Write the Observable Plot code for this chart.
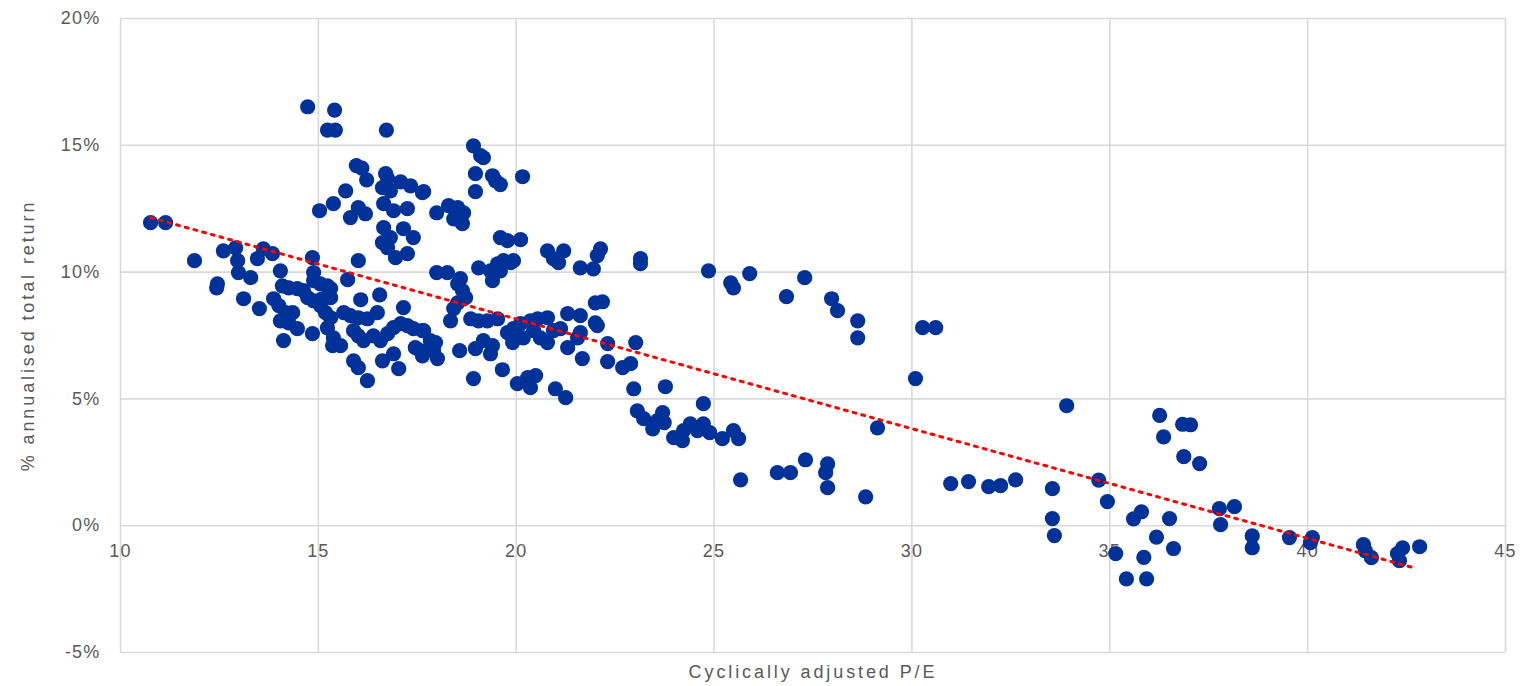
<!DOCTYPE html>
<html>
<head>
<meta charset="utf-8">
<script src="https://cdn.jsdelivr.net/npm/d3@7"></script>
<script src="https://cdn.jsdelivr.net/npm/@observablehq/plot@0.6"></script>
<style>
  html, body { margin: 0; padding: 0; background: #ffffff; }
  #chart { width: 1532px; height: 686px; }
</style>
</head>
<body>
<div id="chart"></div>
<script>
// Cyclically adjusted P/E (x) and % annualised total return (y)
const peX = [
  10.76, 11.14, 11.87, 12.45, 12.43, 12.60, 12.91, 12.96, 12.98, 13.29,
  13.11, 13.51, 13.61, 13.84, 13.46, 14.04, 13.87, 14.00, 14.09, 14.25,
  14.47, 14.62, 14.88, 15.05, 15.23, 15.31, 14.73, 14.88, 15.10, 15.31,
  14.17, 14.35, 14.04, 14.25, 14.12, 14.47, 14.85, 15.05, 15.18, 15.31,
  15.23, 15.38, 15.36, 15.56, 15.64, 15.81, 16.01, 16.24, 16.49, 16.07,
  16.55, 17.15, 15.89, 16.01, 16.14, 15.89, 16.01, 16.24, 16.39, 16.57,
  16.75, 16.90, 17.08, 17.25, 17.40, 17.63, 17.83, 17.91, 17.63, 17.45,
  16.62, 16.90, 17.03, 14.85, 14.88, 15.74, 16.01, 17.99, 18.26, 18.59,
  14.73, 15.41, 15.23, 15.43, 16.72, 15.96, 16.10, 16.22, 16.70, 16.75,
  16.62, 17.08, 17.33, 17.63, 16.82, 15.69, 15.38, 15.03, 15.81, 16.01,
  16.19, 16.65, 16.90, 17.25, 17.99, 16.65, 16.62, 16.82, 16.75, 16.95,
  17.15, 17.40, 17.25,
  18.92, 19.10, 19.17, 18.97, 18.97, 19.40, 19.48, 19.60, 20.16, 17.66,
  18.29, 18.52, 18.67, 18.42, 18.64, 19.60, 19.78, 20.11, 20.79, 20.94,
  21.20, 21.07, 21.62, 21.95, 22.13, 22.05, 19.05, 19.53, 19.68, 19.86,
  19.93, 19.35, 19.60, 19.40, 18.52, 18.64, 18.72, 18.52, 18.42, 18.34,
  18.85, 19.05, 19.27, 19.53, 17.66, 17.58, 17.96, 18.01, 18.57, 18.97,
  19.17, 19.35, 19.40, 19.65, 18.92,
  19.78, 19.93, 20.11, 20.18, 19.91, 20.36, 20.54, 20.79, 20.44, 20.61,
  20.79, 20.94, 21.12, 21.30, 21.62, 21.30, 21.55, 21.62,
  22.00, 22.18, 22.00, 22.05, 21.67, 22.31, 22.31, 22.69, 22.89, 23.02,
  22.97, 20.03, 20.29, 20.49, 20.36, 20.99, 21.25, 23.14, 23.14, 23.77,
  23.06, 23.22, 23.45, 23.70, 23.74, 23.57,
  23.98, 24.20, 24.23, 24.40, 24.58, 24.73, 24.89, 25.21, 25.49, 25.62,
  24.73, 24.86, 25.42, 25.49, 25.90, 26.83, 27.29, 27.97, 28.12, 28.63,
  28.63, 30.27, 30.60, 30.09, 29.13, 25.67, 26.60, 26.93, 27.31, 27.87,
  27.82, 27.87, 28.83, 30.98, 31.43, 31.94, 32.24, 32.62, 33.55, 33.55,
  33.60, 33.91, 34.72, 34.94, 35.15, 35.42, 35.60, 35.80, 35.86, 35.93,
  36.18, 36.26, 36.36, 36.51, 36.61, 36.84, 37.04, 36.87, 37.27, 37.77,
  38.15, 37.80, 38.60, 38.60, 39.54, 40.12, 40.07, 41.41, 41.46, 41.61,
  42.27, 42.32, 42.40, 42.83
];
const retY = [
  11.95, 11.95, 10.45, 9.54, 9.38, 10.84, 10.96, 10.45, 9.98, 9.78,
  8.95, 8.56, 10.92, 10.73, 10.53, 10.05, 8.95, 8.68, 9.46, 9.38,
  9.35, 9.27, 9.66, 9.54, 9.46, 9.35, 8.99, 8.87, 8.95, 8.99,
  8.40, 8.40, 8.08, 8.00, 7.30, 7.77, 7.57, 8.68, 8.40, 8.20,
  7.80, 7.41, 7.10, 7.10, 8.40, 8.28, 8.20, 8.16, 8.40, 8.91,
  9.10, 8.60, 7.69, 7.49, 7.30, 6.50, 6.23, 5.72, 7.49, 7.30,
  7.57, 7.81, 7.97, 7.89, 7.77, 7.69, 7.30, 6.90, 6.70, 7.02,
  6.50, 6.78, 6.19, 10.57, 9.98, 9.70, 10.45, 9.98, 9.98, 9.74,
  16.52, 16.39, 15.60, 15.60, 15.60, 14.20, 14.10, 13.64, 13.88, 13.70,
  13.33, 13.56, 13.40, 13.13, 13.20, 13.20, 12.70, 12.42, 12.15, 12.54,
  12.30, 12.70, 12.42, 12.50, 12.34, 11.75, 11.16, 11.36, 10.96, 10.57,
  11.71, 11.36, 10.73,
  14.98, 14.59, 14.51, 13.88, 13.17, 13.80, 13.60, 13.45, 13.76, 13.17,
  12.62, 12.54, 12.34, 12.10, 11.91, 11.36, 11.24, 11.28, 10.84, 10.53,
  10.84, 10.37, 10.17, 10.13, 10.92, 10.65, 10.17, 10.33, 10.45, 10.37,
  10.45, 10.05, 10.05, 9.66, 9.54, 9.27, 8.99, 8.79, 8.56, 8.08,
  8.16, 8.08, 8.08, 8.16, 7.69, 6.90, 7.22, 6.59, 6.90, 6.98,
  7.30, 6.78, 7.10, 6.15, 5.80,
  7.61, 7.77, 7.97, 7.41, 7.22, 8.08, 8.16, 8.20, 7.69, 7.41,
  7.22, 7.69, 7.77, 8.36, 8.28, 7.02, 7.41, 7.61,
  8.79, 8.83, 8.00, 7.89, 6.59, 7.18, 6.47, 6.23, 6.39, 7.22,
  5.40, 5.60, 5.84, 5.92, 5.44, 5.40, 5.05, 10.53, 10.33, 5.48,
  4.53, 4.22, 3.82, 4.46, 4.06, 4.14,
  3.47, 3.35, 3.75, 4.02, 3.75, 4.02, 3.67, 3.43, 3.75, 3.43,
  4.81, 10.05, 9.58, 9.38, 9.94, 9.03, 9.78, 8.95, 8.48, 8.08,
  7.41, 7.81, 7.81, 5.80, 3.86, 1.81, 2.09, 2.09, 2.60, 2.44,
  2.09, 1.50, 1.14, 1.66, 1.74, 1.54, 1.58, 1.81, 1.46, 0.28,
  -0.39, 4.73, 1.80, 0.95, -1.10, -2.10, 0.27, 0.55, -1.25, -2.10,
  -0.45, 4.35, 3.50, 0.28, -0.90, 4.00, 3.98, 2.72, 2.45, 0.67,
  0.75, 0.04, -0.40, -0.87, -0.47, -0.47, -0.67, -0.75, -0.99, -1.26,
  -1.10, -1.38, -0.87, -0.83
];
// Trend line end points
const trendX = [10.76, 42.68];
const trendY = [12.15, -1.66];

const xTicks = [10, 15, 20, 25, 30, 35, 40, 45];
const yTicks = [-5, 0, 5, 10, 15, 20];
const xTitle = "Cyclically adjusted P/E";
const yTitle = "% annualised total return";

const points = peX.map((x, i) => ({x, y: retY[i]}));
const trend = trendX.map((x, i) => ({x, y: trendY[i]}));

const textColor = "#595959";
const font = "'Liberation Sans', Arial, sans-serif";

const chart = Plot.plot({
  width: 1532,
  height: 686,
  marginLeft: 120,
  marginRight: 27,
  marginTop: 18,
  marginBottom: 34,
  style: {fontFamily: font, fontSize: "18px", color: textColor, background: "#ffffff"},
  x: {domain: [10, 45], ticks: xTicks},
  y: {domain: [-5, 20], ticks: yTicks},
  marks: [
    Plot.gridX(xTicks, {stroke: "#d9d9d9", strokeOpacity: 1, strokeWidth: 1.6}),
    Plot.gridY(yTicks, {stroke: "#d9d9d9", strokeOpacity: 1, strokeWidth: 1.6}),
    Plot.axisY(yTicks, {tickSize: 0, tickPadding: 20, tickFormat: d => d + "%", fill: textColor, fontSize: 18, label: null}),
    Plot.axisX({ticks: [], label: null, tickSize: 0}),
    Plot.text(xTicks, {x: d => d, y: () => 0, text: d => String(d), dy: 26, textAnchor: "middle", lineAnchor: "middle", fill: textColor, fontSize: 18}),
    Plot.dot(points, {x: "x", y: "y", r: 7.6, fill: "#003299", stroke: "none"}),
    Plot.line(trend, {x: "x", y: "y", stroke: "#ff0000", strokeWidth: 3, strokeDasharray: "3,6"}),
    Plot.text([xTitle], {frameAnchor: "bottom", text: d => d, dy: 20, lineAnchor: "middle", fill: textColor, fontSize: 18}),
    Plot.text([yTitle], {frameAnchor: "left", text: d => d, dx: -92, rotate: -90, lineAnchor: "middle", textAnchor: "middle", fill: textColor, fontSize: 18})
  ]
});

// widen the lettering like the reference
d3.select(chart).selectAll("text").each(function() {
  const t = this.textContent;
  if (t === xTitle || t === yTitle) this.setAttribute("letter-spacing", "2.9px");
  else if (/^-?\d+%?$/.test(t)) this.setAttribute("letter-spacing", "1.2px");
});

document.getElementById("chart").appendChild(chart);
</script>
</body>
</html>
